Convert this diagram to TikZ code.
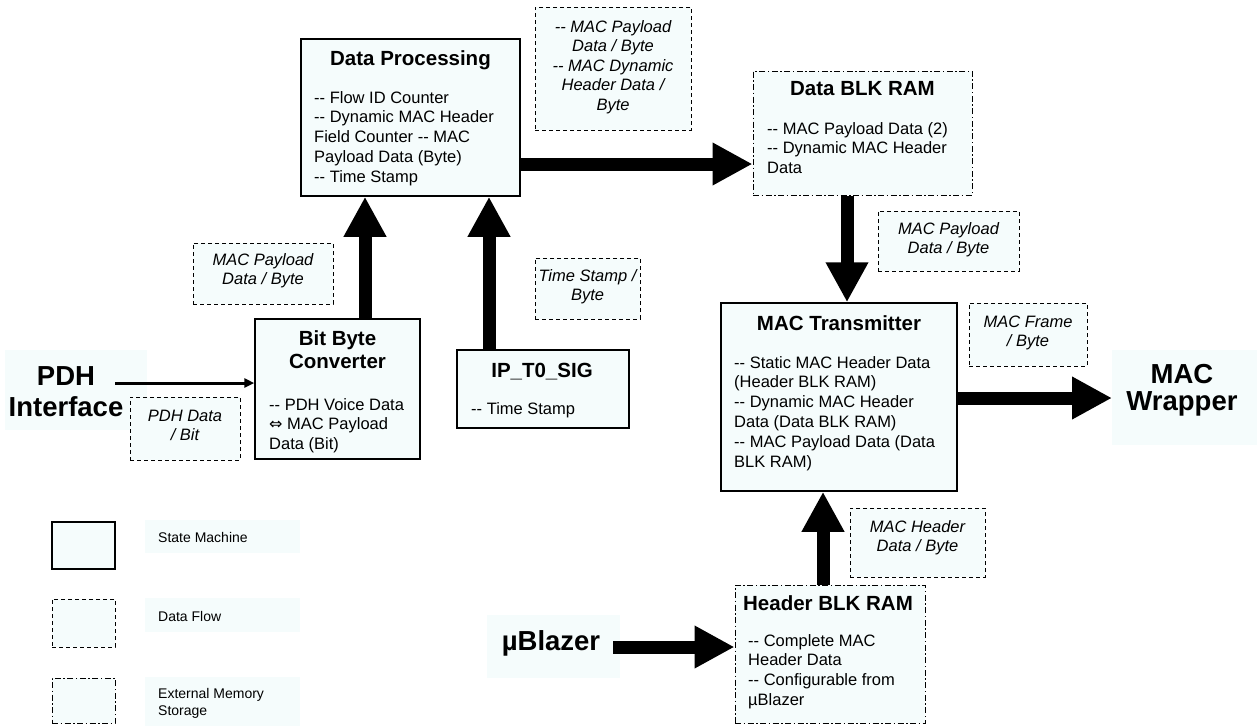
\documentclass[tikz,border=0pt]{standalone}
\usepackage{fontspec}
\setmainfont{Liberation Sans}
\newfontfamily\symbolfont{DejaVu Sans}
\usetikzlibrary{arrows.meta}
\definecolor{paleblue}{HTML}{F5FCFC}
% two plain hyphens, kept apart so they do not join into a dash
\newcommand{\dd}{-{}-}

\tikzset{
  statebox/.style={draw=black, line width=1.5pt, fill=paleblue},
  flowbox/.style={draw=black, line width=1pt, dash pattern=on 4pt off 3pt, fill=paleblue},
  memorybox/.style={draw=black, line width=1pt, dash pattern=on 6pt off 2.5pt on 1.5pt off 2.5pt, fill=paleblue},
  boxtitle/.style={font=\fontsize{20.5}{23}\selectfont\bfseries, inner sep=0pt, align=center, anchor=base},
  boxbody/.style={font=\fontsize{16.5}{19.8}\selectfont, inner sep=0pt, align=left, anchor=base west},
  flowtext/.style={font=\fontsize{16.5}{19.5}\selectfont\itshape, inner sep=0pt, align=center, anchor=base},
  bigtext/.style={font=\fontsize{27.5}{31}\selectfont\bfseries, inner sep=0pt, align=center, anchor=base},
  legendtext/.style={font=\fontsize{14}{17}\selectfont, inner sep=0pt, align=left, anchor=base west},
  bigarrow/.style={line width=13pt, -{Triangle[width=40pt,length=40pt]}},
  thinarrow/.style={line width=3pt, -{Triangle[width=9pt,length=10pt]}},
}

\begin{document}
\begin{tikzpicture}[x=1pt,y=-1pt]
\useasboundingbox (0,0) rectangle (1257,726);

% pale label backgrounds
\fill[paleblue] (5,350) rectangle (147,430);
\fill[paleblue] (1112,350) rectangle (1257,445);
\fill[paleblue] (487,615) rectangle (620,678);
\fill[paleblue] (145,520) rectangle (300,553);
\fill[paleblue] (145,598) rectangle (300,632);
\fill[paleblue] (145,677) rectangle (300,726);

% state machines (text nodes are placed by the baseline of their last line)
\node[statebox, minimum width=219, minimum height=157] (dp) at (410.5,117.5) {};
\node[boxtitle] (dpT) at (410.5,65) {Data Processing};
\node[boxbody] (dpB) at (314,182.2) {\dd{} Flow ID Counter\\\dd{} Dynamic MAC Header\\Field Counter \dd{} MAC\\Payload Data (Byte)\\\dd{} Time Stamp};

\node[statebox, minimum width=165, minimum height=140] (bbc) at (337.5,389) {};
\node[boxtitle] (bbcT) at (337.5,368) {Bit Byte\\Converter};
\node[boxbody] (bbcB) at (269,449.6) {\dd{} PDH Voice Data\\{\symbolfont\fontsize{16}{19.8}\selectfont ⇔} MAC Payload\\Data (Bit)};

\node[statebox, minimum width=172, minimum height=78] (ip) at (543,389) {};
\node[boxtitle] (ipT) at (542,377) {IP\_T0\_SIG};
\node[boxbody] (ipB) at (471,414) {\dd{} Time Stamp};

\node[statebox, minimum width=236, minimum height=188] (mact) at (839,397) {};
\node[boxtitle] (mactT) at (839,330) {MAC Transmitter};
\node[boxbody] (mactB) at (734,467) {\dd{} Static MAC Header Data\\(Header BLK RAM)\\\dd{} Dynamic MAC Header\\Data (Data BLK RAM)\\\dd{} MAC Payload Data (Data\\BLK RAM)};

% external memories
\node[memorybox, minimum width=219, minimum height=124] (dblk) at (862.5,133) {};
\node[boxtitle] (dblkT) at (862.5,95) {Data BLK RAM};
\node[boxbody] (dblkB) at (767,173.6) {\dd{} MAC Payload Data (2)\\\dd{} Dynamic MAC Header\\Data};

\node[memorybox, minimum width=190, minimum height=138] (hblk) at (830,654) {};
\node[boxtitle] (hblkT) at (828,610) {Header BLK RAM};
\node[boxbody] (hblkB) at (748,705.4) {\dd{} Complete MAC\\Header Data\\\dd{} Configurable from\\µBlazer};

% data flows
\node[flowbox, minimum width=156, minimum height=123] (df1) at (613,68.5) {};
\node[flowtext] (df1T) at (613,110) {\dd{} MAC Payload\\Data / Byte\\\dd{} MAC Dynamic\\Header Data /\\Byte};

\node[flowbox, minimum width=140, minimum height=61] (df2) at (263,273.5) {};
\node[flowtext] (df2T) at (263,284.5) {MAC Payload\\Data / Byte};

\node[flowbox, minimum width=105, minimum height=61] (df3) at (587.5,288.5) {};
\node[flowtext] (df3T) at (587.5,300.5) {Time Stamp /\\Byte};

\node[flowbox, minimum width=141, minimum height=60] (df4) at (948.5,241) {};
\node[flowtext] (df4T) at (948.5,253.5) {MAC Payload\\Data / Byte};

\node[flowbox, minimum width=118, minimum height=63] (df5) at (1028,334.5) {};
\node[flowtext] (df5T) at (1028,346.5) {MAC Frame\\/ Byte};

\node[flowbox, minimum width=135, minimum height=69] (df6) at (917.5,542.5) {};
\node[flowtext] (df6T) at (917.5,551.5) {MAC Header\\Data / Byte};

\node[flowbox, minimum width=110, minimum height=63] (df7) at (185,428.5) {};
\node[flowtext] (df7T) at (185,440.5) {PDH Data\\/ Bit};

% outside blocks
\node[bigtext] (pdh) at (66,416) {PDH\\Interface};
\node[bigtext, font=\fontsize{27.5}{27}\selectfont\bfseries] (wrap) at (1182,410) {MAC\\Wrapper};
\node[bigtext] (ublz) at (551,650) {µBlazer};
\coordinate (pdhOut) at (115,383);
\coordinate (ublzOut) at (613,647);

% connectors
\draw[thinarrow] (pdhOut) -- (bbc.west |- pdhOut);
\draw[bigarrow] (365,0 |- bbc.north) -- (365,0 |- dp.south);
\draw[bigarrow] (489,0 |- ip.north) -- (489,0 |- dp.south);
\draw[bigarrow] (dp.east |- 0,164) -- (dblk.west |- 0,164);
\draw[bigarrow] (847,0 |- dblk.south) -- (847,0 |- mact.north);
\draw[bigarrow] (823,0 |- hblk.north) -- (823,0 |- mact.south);
\draw[bigarrow] (mact.east |- 0,398) -- (1112,398);
\draw[bigarrow] (ublzOut) -- (hblk.west |- ublzOut);

% legend
\node[statebox, minimum width=63, minimum height=47] (lg1) at (83.5,545.5) {};
\node[legendtext] (lg1T) at (158,542) {State Machine};
\node[flowbox, minimum width=63, minimum height=48] (lg2) at (83.5,623) {};
\node[legendtext] (lg2T) at (158,621) {Data Flow};
\node[memorybox, minimum width=63, minimum height=45] (lg3) at (83.5,700.5) {};
\node[legendtext] (lg3T) at (158,715) {External Memory\\Storage};
\end{tikzpicture}
\end{document}
